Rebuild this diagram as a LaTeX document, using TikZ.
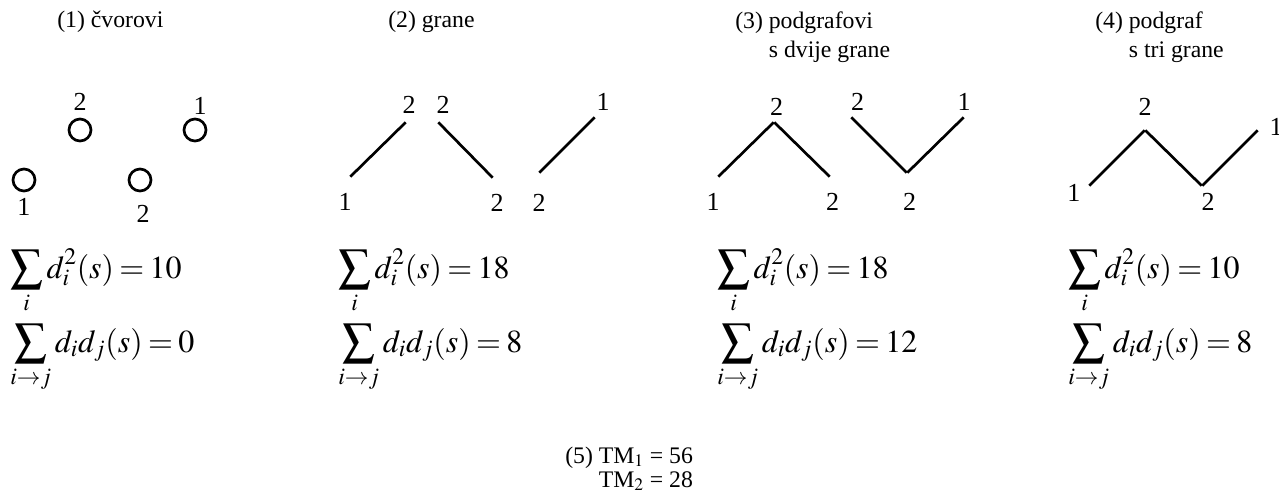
\documentclass[tikz,border=0pt]{standalone}
\usepackage{mathptmx}
\usepackage{fontspec}
\setmainfont{Liberation Serif}
\usetikzlibrary{positioning}
\tikzstyle{vtx} = [circle, draw, line width=2pt, minimum size=16.5pt, inner sep=0]
\tikzstyle{pt} = [inner sep=0, minimum size=0]
\tikzstyle{edge} = [draw, line width=2pt, line join=miter]
\tikzstyle{lbl} = [inner sep=0, font=\fontsize{19.5}{19.5}\selectfont]
\tikzstyle{head} = [anchor=base west, align=left, inner sep=0, font=\fontsize{17.8}{21.5}\selectfont]
\tikzstyle{formula} = [anchor=base west, inner sep=0, font=\fontsize{24}{26}\selectfont]
\newcommand{\eq}{\mkern3mu{=}\mkern3mu}

\begin{document}
\begin{tikzpicture}[x=0.75pt, y=-0.75pt]
			\useasboundingbox (0,0) rectangle (1279,493);
			% naslovi
			\node [head] (h1) at (57,27) {(1) čvorovi};
			\node [head] (h2) at (388,27) {(2) grane};
			\node [head] (h3) at (735,57) {(3) podgrafovi\\\phantom{(3) }s dvije grane};
			\node [head] (h4) at (1095,57) {(4) podgraf\\\phantom{(4) }s tri grane};
			% (1) cvorovi
			\node [vtx, label={[lbl, label distance=5.25pt]above:2}] (c1) at (80,130) {};
			\node [vtx, label={[lbl, label distance=2.25pt, xshift=3.75pt]above:1}] (c2) at (195,130) {};
			\node [vtx, label={[lbl, label distance=4.25pt]below:1}] (c3) at (24,180) {};
			\node [vtx, label={[lbl, label distance=9.75pt, xshift=2.25pt]below:2}] (c4) at (140,180) {};
			% (2) grane
			\node [pt, label={[lbl, label distance=12pt, xshift=-3.75pt]below:1}] (a1) at (350,177) {};
			\node [pt, label={[lbl, label distance=6pt, xshift=2.25pt]above:2}] (a2) at (406,122) {};
			\node [pt, label={[lbl, label distance=6pt, xshift=3.75pt]above:2}] (a3) at (438,122) {};
			\node [pt, label={[lbl, label distance=12pt, xshift=3pt]below:2}] (a4) at (493,178) {};
			\node [pt, label={[lbl, label distance=15.75pt]below:2}] (a5) at (539,173) {};
			\node [pt, label={[lbl, label distance=4.5pt, xshift=6pt]above:1}] (a6) at (595,117) {};
			\path [edge] (a1) -- (a2);
			\path [edge] (a3) -- (a4);
			\path [edge] (a5) -- (a6);
			% (3) podgrafovi s dvije grane
			\node [pt, label={[lbl, label distance=12pt, xshift=-3.75pt]below:1}] (b1) at (718,177) {};
			\node [pt, label={[lbl, label distance=4.5pt, xshift=2pt]above:2}] (b2) at (774,122) {};
			\node [pt, label={[lbl, label distance=12pt, xshift=2pt]below:2}] (b3) at (830,177) {};
			\node [pt, label={[lbl, label distance=4.5pt, xshift=5pt]above:2}] (b4) at (851,117) {};
			\node [pt, label={[lbl, label distance=15pt, xshift=2pt]below:2}] (b5) at (907,173) {};
			\node [pt, label={[lbl, label distance=4.5pt]above:1}] (b6) at (964,117) {};
			\path [edge] (b1) -- (b2) -- (b3);
			\path [edge] (b4) -- (b5) -- (b6);
			% (4) podgraf s tri grane
			\node [pt, label={[lbl, label distance=6pt, yshift=-5.25pt]left:1}] (p1) at (1089,186) {};
			\node [pt, label={[lbl, label distance=10.5pt]above:2}] (p2) at (1145,130) {};
			\node [pt, label={[lbl, label distance=5.25pt, xshift=4.5pt]below:2}] (p3) at (1202,186) {};
			\node [pt, label={[lbl, label distance=8.25pt, yshift=2.25pt]right:1}] (p4) at (1258,130) {};
			\path [edge] (p1) -- (p2) -- (p3) -- (p4);
			% sume
			\node [formula] (s1) at (10,278) {$\displaystyle\sum_{i} d_i^2(s) \eq 10$};
			\node [formula] (t1) at (10,352) {$\displaystyle\sum_{i\to j} d_i d_j(s) \eq 0$};
			\node [formula] (s2) at (338,278) {$\displaystyle\sum_{i} d_i^2(s) \eq 18$};
			\node [formula] (t2) at (338,352) {$\displaystyle\sum_{i\to j} d_i d_j(s) \eq 8$};
			\node [formula] (s3) at (717,278) {$\displaystyle\sum_{i} d_i^2(s) \eq 18$};
			\node [formula] (t3) at (717,352) {$\displaystyle\sum_{i\to j} d_i d_j(s) \eq 12$};
			\node [formula] (s4) at (1068,278) {$\displaystyle\sum_{i} d_i^2(s) \eq 10$};
			\node [formula] (t4) at (1068,352) {$\displaystyle\sum_{i\to j} d_i d_j(s) \eq 8$};
			% (5)
			\node [head, font=\fontsize{17.8}{18}\selectfont] (tm) at (565,487) {(5) TM$_1$ = 56\\\phantom{(5) }TM$_2$ = 28};
\end{tikzpicture}
\end{document}
